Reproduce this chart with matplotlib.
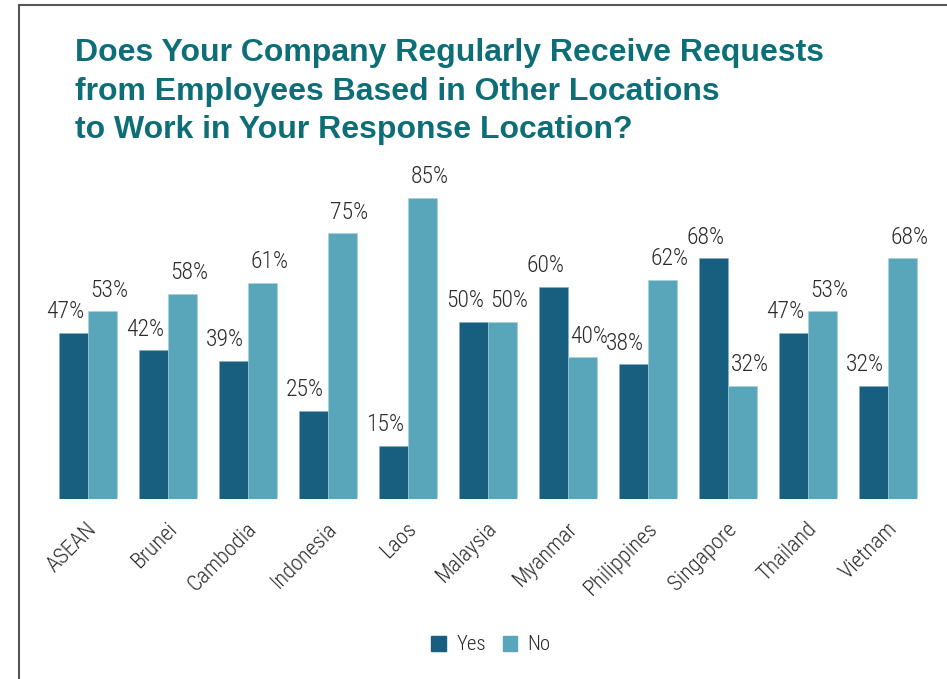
import matplotlib.pyplot as plt
import numpy as np
from matplotlib.lines import Line2D

# Survey answers by location (percent)
locations = ['ASEAN', 'Brunei', 'Cambodia', 'Indonesia', 'Laos', 'Malaysia',
             'Myanmar', 'Philippines', 'Singapore', 'Thailand', 'Vietnam']
yes_pct = [47, 42, 39, 25, 15, 50, 60, 38, 68, 47, 32]
no_pct = [53, 58, 61, 75, 85, 50, 40, 62, 32, 53, 68]

yes_color = '#185E7E'
no_color = '#59A5B9'
title_color = '#0E6E78'
text_color = '#2b2b2b'

narrow = ['Liberation Sans Narrow', 'Roboto Condensed', 'Roboto', 'DejaVu Sans']
bold = ['Liberation Sans', 'DejaVu Sans']

fig = plt.figure(figsize=(9.47, 6.79), dpi=100)
ax = fig.add_axes([48 / 947, 180 / 679, 880 / 947, 354 / 679])

x = np.arange(len(locations))
w = 0.3625
b1 = ax.bar(x - w / 2, yes_pct, w, color=yes_color, edgecolor='#7fb0c4', linewidth=0.4, label='Yes')
b2 = ax.bar(x + w / 2, no_pct, w, color=no_color, edgecolor='#a9d0dc', linewidth=0.4, label='No')

# value labels, nudged outward from the pair
for bar, v in zip(b1, yes_pct):
    ax.annotate(f'{v}%', (bar.get_x() + bar.get_width() / 2, v), xytext=(-6, 7),
                textcoords='offset points', ha='center', va='bottom',
                fontsize=17, fontweight='light', color=text_color, family=narrow)
for bar, v in zip(b2, no_pct):
    ax.annotate(f'{v}%', (bar.get_x() + bar.get_width() / 2, v), xytext=(5, 7),
                textcoords='offset points', ha='center', va='bottom',
                fontsize=17, fontweight='light', color=text_color, family=narrow)

ax.set_xlim(-0.5, len(locations) - 0.5)
ax.set_ylim(0, 100)
ax.set_yticks([])
ax.set_xticks(x - 0.02)
ax.set_xticklabels(locations, rotation=45, ha='right', rotation_mode='anchor',
                   fontsize=16, fontweight='light', color=text_color, family=narrow)
ax.tick_params(axis='x', length=0, pad=14)
for s in ax.spines.values():
    s.set_visible(False)

fig.text(75 / 947, 1 - 38 / 679, 'Does Your Company Regularly Receive Requests\n'
         'from Employees Based in Other Locations\nto Work in Your Response Location?',
         ha='left', va='top', fontsize=23, fontweight='bold', color=title_color,
         family=bold, linespacing=1.38)

handles = [plt.Rectangle((0, 0), 1, 1, color=yes_color), plt.Rectangle((0, 0), 1, 1, color=no_color)]
leg = fig.legend(handles, ['Yes', 'No'], loc='center', bbox_to_anchor=(491 / 947, 1 - 645 / 679),
                 ncol=2, frameon=False, handlelength=0.7, handleheight=0.7,
                 handletextpad=0.5, columnspacing=0.8,
                 prop={'family': narrow, 'size': 15, 'weight': 'light'})
for t in leg.get_texts():
    t.set_color(text_color)

# page frame on the left and top
fig.add_artist(Line2D([19 / 947, 19 / 947], [0, 1 - 5 / 679], color='#555555', lw=1.5))
fig.add_artist(Line2D([19 / 947, 1], [1 - 5 / 679, 1 - 5 / 679], color='#555555', lw=1.5))

fig.savefig('out.png', dpi=100)
